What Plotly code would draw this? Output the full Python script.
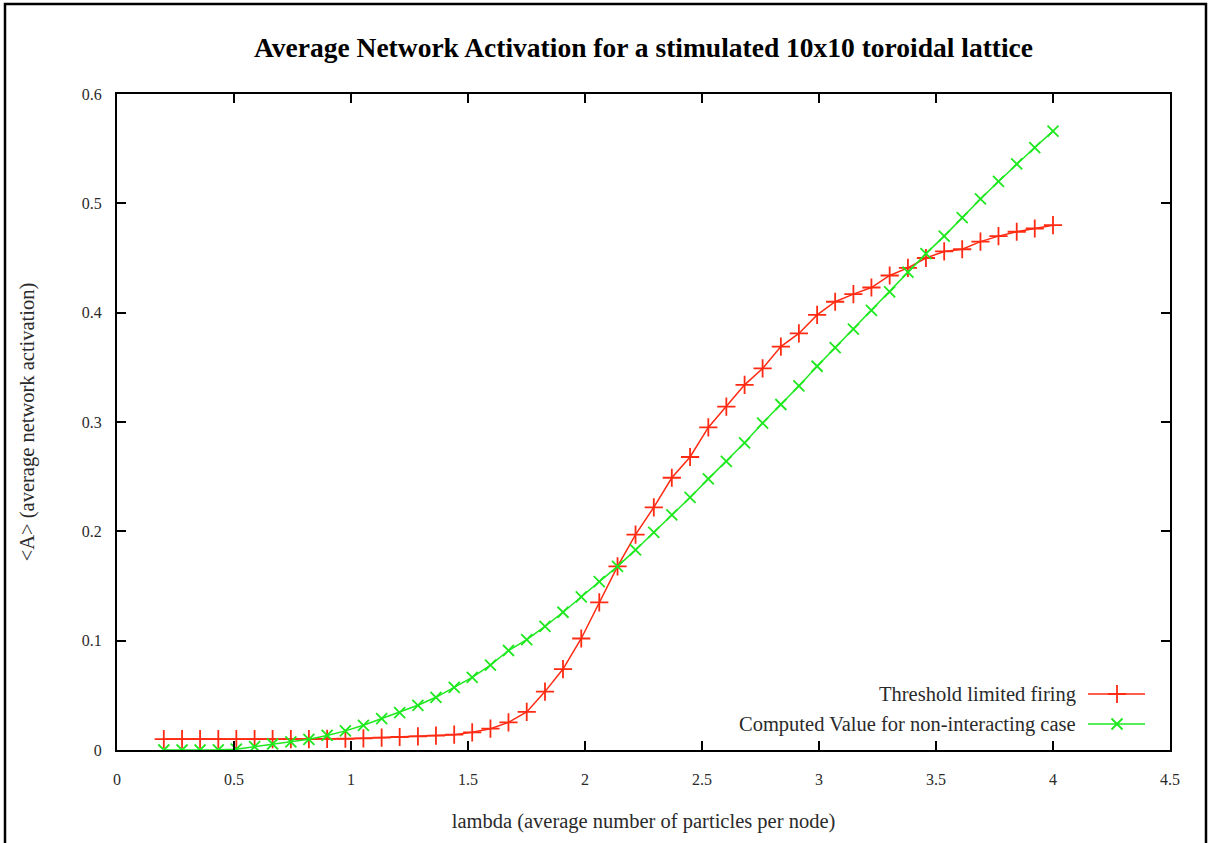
import plotly.graph_objects as go

# lambda values (average number of particles per node)
lam = [0.2, 0.278, 0.355, 0.433, 0.51, 0.588, 0.665, 0.743, 0.82, 0.898,
       0.976, 1.053, 1.131, 1.208, 1.286, 1.363, 1.441, 1.518, 1.596, 1.673,
       1.751, 1.829, 1.906, 1.984, 2.061, 2.139, 2.216, 2.294, 2.371, 2.449,
       2.527, 2.604, 2.682, 2.759, 2.837, 2.914, 2.992, 3.069, 3.147, 3.224,
       3.302, 3.38, 3.457, 3.535, 3.612, 3.69, 3.767, 3.845, 3.922, 4.0]

# simulated activation with threshold-limited firing
threshold_act = [0.010, 0.010, 0.010, 0.010, 0.010, 0.010, 0.010, 0.010, 0.010, 0.0101,
                 0.0103, 0.0107, 0.0113, 0.0119, 0.0125, 0.0131, 0.0140, 0.0162, 0.0195, 0.0253,
                 0.0348, 0.0534, 0.074, 0.102, 0.135, 0.168, 0.197, 0.222, 0.249, 0.268,
                 0.295, 0.314, 0.334, 0.349, 0.369, 0.381, 0.398, 0.410, 0.417, 0.423,
                 0.434, 0.441, 0.450, 0.456, 0.458, 0.465, 0.470, 0.474, 0.477, 0.480]

# computed activation for the non-interacting case
computed_act = [0.0, 0.0, 0.0, 0.0002, 0.0008, 0.003, 0.0055, 0.0075, 0.0098, 0.0133,
                0.0175, 0.0226, 0.0287, 0.0341, 0.0409, 0.0482, 0.0573, 0.0665, 0.0777, 0.091,
                0.101, 0.113, 0.126, 0.140, 0.154, 0.168, 0.183, 0.199, 0.215, 0.231,
                0.248, 0.264, 0.281, 0.299, 0.316, 0.333, 0.351, 0.368, 0.385, 0.402,
                0.419, 0.437, 0.454, 0.470, 0.487, 0.504, 0.520, 0.536, 0.551, 0.566]

series_names = ["Threshold limited firing", "Computed Value for non-interacting case"]
x_ticks = [0, 0.5, 1, 1.5, 2, 2.5, 3, 3.5, 4, 4.5]
x_tick_text = ["0", "0.5", "1", "1.5", "2", "2.5", "3", "3.5", "4", "4.5"]
y_ticks = [0, 0.1, 0.2, 0.3, 0.4, 0.5, 0.6]
y_tick_text = ["0", "0.1", "0.2", "0.3", "0.4", "0.5", "0.6"]

RED = "#ff2a12"
GREEN = "#1ee81e"
FONT = "Liberation Serif"
TEXT = "#2a2a2a"

W, H = 1216, 843
ML, MR, MT, MB = 117, 46, 94, 93
PW, PH = W - ML - MR, H - MT - MB


def px(x):
    return (x - ML) / PW


def py(y):
    return (H - MB - y) / PH


fig = go.Figure()

styles = [
    dict(color=RED, symbol="cross-thin", size=13),
    dict(color=GREEN, symbol="x-thin", size=11),
]
for name, ys, st in zip(series_names, [threshold_act, computed_act], styles):
    fig.add_trace(go.Scatter(
        x=lam, y=ys, name=name, mode="lines+markers",
        line=dict(color=st["color"], width=1.5),
        marker=dict(symbol=st["symbol"], size=st["size"],
                    line=dict(color=st["color"], width=1.8)),
        showlegend=False,
    ))

# key drawn in the lower right corner, text to the left of the sample
key_rows = [694, 724]
for name, st, ky in zip(series_names, styles, key_rows):
    fig.add_annotation(x=px(1078), y=py(ky), xref="paper", yref="paper",
                       text=name, showarrow=False, xanchor="right",
                       yanchor="middle", font=dict(family=FONT, size=20.5, color=TEXT))
    fig.add_trace(go.Scatter(
        x=[1088, 1145], y=[H - MB - ky] * 2, xaxis="x2", yaxis="y2",
        mode="lines", line=dict(color=st["color"], width=1.5),
        showlegend=False, hoverinfo="skip",
    ))
    fig.add_trace(go.Scatter(
        x=[1117], y=[H - MB - ky], xaxis="x2", yaxis="y2",
        mode="markers",
        marker=dict(symbol=st["symbol"], size=st["size"],
                    line=dict(color=st["color"], width=1.8)),
        showlegend=False, hoverinfo="skip",
    ))

# outer frame around the whole chart
fig.add_shape(type="rect", xref="paper", yref="paper",
              x0=px(5), x1=px(1206), y0=py(4), y1=py(860),
              line=dict(color="black", width=2.5), fillcolor="rgba(0,0,0,0)")

axis_common = dict(
    showgrid=False, zeroline=False, showline=True, linecolor="black",
    linewidth=2, mirror="ticks", ticks="inside", ticklen=9, tickwidth=1.5,
    tickcolor="black", tickfont=dict(family=FONT, size=16, color=TEXT),
)

fig.update_layout(
    width=W, height=H,
    margin=dict(l=ML, r=MR, t=MT, b=MB),
    paper_bgcolor="white", plot_bgcolor="white",
    title=dict(text="<b>Average Network Activation for a stimulated 10x10 toroidal lattice</b>",
               xref="paper", x=0.5, xanchor="center", y=1 - 47 / H, yanchor="middle",
               font=dict(family=FONT, size=27.5, color="black")),
    xaxis=dict(range=[0, 4.5], tickvals=x_ticks, ticktext=x_tick_text,
               ticklabelstandoff=14,
               title=dict(text="lambda (average number of particles per node)",
                          font=dict(family=FONT, size=20.5, color=TEXT), standoff=26),
               **axis_common),
    yaxis=dict(range=[0, 0.6], tickvals=y_ticks, ticktext=y_tick_text,
               ticklabelstandoff=10,
               title=dict(text="&lt;A&gt; (average network activation)",
                          font=dict(family=FONT, size=20.5, color=TEXT), standoff=42),
               **axis_common),
    xaxis2=dict(overlaying="x", range=[ML, W - MR], visible=False, fixedrange=True),
    yaxis2=dict(overlaying="y", range=[0, PH], visible=False, fixedrange=True),
)

fig.write_html("out.html")
